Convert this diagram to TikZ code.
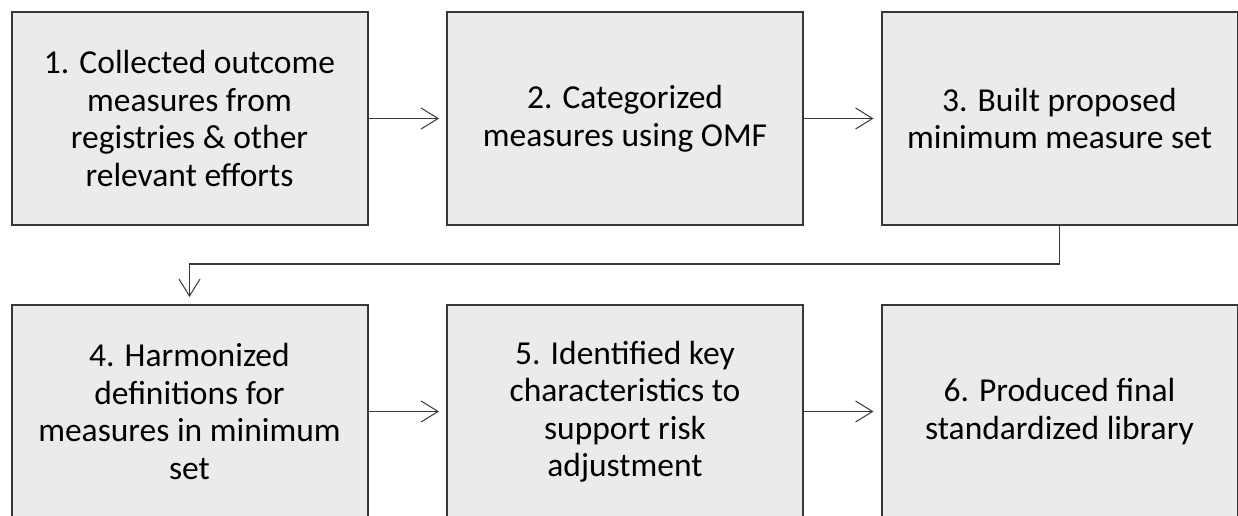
\documentclass[tikz,border=0pt]{standalone}
\usepackage{fontspec}
\setmainfont{Carlito}
\usetikzlibrary{arrows.meta}
\definecolor{boxgray}{HTML}{EBEBEB}
\definecolor{edgegray}{HTML}{383838}
\newcommand{\boxw}{356pt}
\newcommand{\boxh}{213pt}
\tikzset{
  stepbox/.style={draw=edgegray, line width=2pt, fill=boxgray, minimum width=\boxw, minimum height=\boxh, inner sep=0pt, align=center, font=\fontsize{33.5}{37.5}\selectfont},
  flow/.style={draw=edgegray, line width=1.2pt, -{Straight Barb[length=17pt,width=21pt,line width=1pt]}, shorten >=7pt}
}

\begin{document}
\begin{tikzpicture}[x=1pt,y=1pt]
\useasboundingbox (0,0) rectangle (1238,515);
\node[stepbox] (1) at (189.5, 396.5) {1. Collected outcome\\measures from\\registries \& other\\relevant efforts};
\node[stepbox] (2) at (625, 396.5) {2. Categorized\\measures using OMF};
\node[stepbox] (3) at (1059.5, 396.5) {3. Built proposed\\minimum measure set};
\node[stepbox] (4) at (189.5, 103.5) {4. Harmonized\\definitions for\\measures in minimum\\set};
\node[stepbox] (5) at (625, 103.5) {5. Identified key\\characteristics to\\support risk\\adjustment};
\node[stepbox] (6) at (1059.5, 103.5) {6. Produced final\\standardized library};
%top row
\draw[flow] (1) -- (2);
\draw[flow] (2) -- (3);
%back to row two
\draw[flow] (3.south) -- ++(0,-38) -| (4.north);
%bottom row
\draw[flow] (4) -- (5);
\draw[flow] (5) -- (6);
\end{tikzpicture}
\end{document}
